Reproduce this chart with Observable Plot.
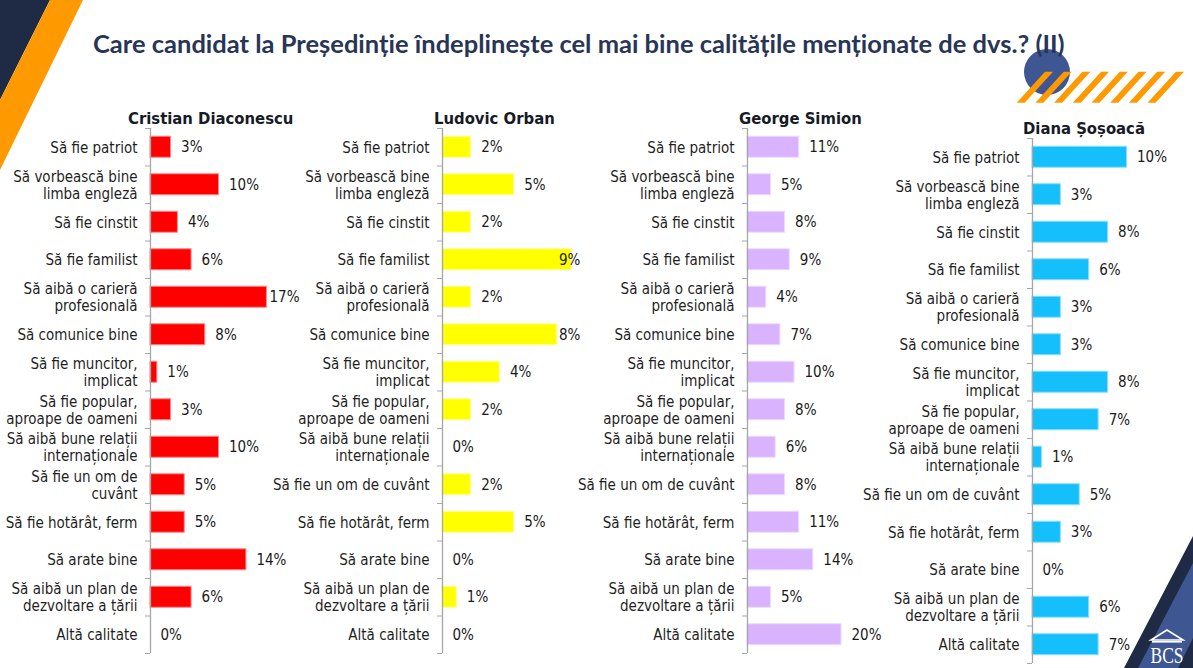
<!DOCTYPE html>
<html><head><meta charset="utf-8">
<script src="https://cdn.jsdelivr.net/npm/d3@7"></script>
<script src="https://cdn.jsdelivr.net/npm/@observablehq/plot@0.6"></script>
<style>
body{margin:0;background:#fff;}
#wrap{position:relative;width:1193px;height:668px;overflow:hidden;background:#fff;}
#decor{position:absolute;left:0;top:0;}
</style></head>
<body><div id="wrap"><svg id="decor" width="1193" height="668"></svg></div>
<script>
// ---- data ----
const chartTitle = "Care candidat la Președinție îndeplinește cel mai bine calitățile menționate de dvs.? (II)";
const categories = ["Să fie patriot", "Să vorbească bine\nlimba engleză", "Să fie cinstit", "Să fie familist",
  "Să aibă o carieră\nprofesională", "Să comunice bine", "Să fie muncitor,\nimplicat",
  "Să fie popular,\naproape de oameni", "Să aibă bune relații\ninternaționale", "Să fie un om de cuvânt",
  "Să fie hotărât, ferm", "Să arate bine", "Să aibă un plan de\ndezvoltare a țării", "Altă calitate"];
const categoriesNarrow = categories.map(c => c === "Să fie un om de cuvânt" ? "Să fie un om de\ncuvânt" : c);
const candidates = ["Cristian Diaconescu", "Ludovic Orban", "George Simion", "Diana Șoșoacă"];
const diaconescu = [3, 10, 4, 6, 17, 8, 1, 3, 10, 5, 5, 14, 6, 0];
const orban      = [2, 5, 2, 9, 2, 8, 4, 2, 0, 2, 5, 0, 1, 0];
const simion     = [11, 5, 8, 9, 4, 7, 10, 8, 6, 8, 11, 14, 5, 20];
const sosoaca    = [10, 3, 8, 6, 3, 3, 8, 7, 1, 5, 3, 0, 6, 7];

// ---- layout / style ----
const FONT = '"DejaVu Sans Condensed", "DejaVu Sans", sans-serif';
const layout = [
  {values: diaconescu, labels: categoriesNarrow, axis: 150, top: 100, px: 6.85, max: 20, cap: 119, fill: "#ff0000", stroke: "#ff8a8a", tx: 128, ty: 124},
  {values: orban, labels: categories, axis: 441.7, top: 100, px: 14.35, max: 10, cap: 116.5, fill: "#ffff00", stroke: "#ffffa0", tx: 434, ty: 124},
  {values: simion, labels: categories, axis: 746.7, top: 100, px: 4.7, max: 25, cap: Infinity, fill: "#d9b3fe", stroke: "#ecdcff", tx: 739, ty: 124},
  {values: sosoaca, labels: categories, axis: 1031.7, top: 110, px: 9.45, max: 12, cap: Infinity, fill: "#14bffb", stroke: "#8cdffd", tx: 1023, ty: 134}
];

const wrap = document.getElementById("wrap");
const decor = d3.select("#decor");

// decorations
decor.append("polygon").attr("points", "0,0 50,0 0,100").attr("fill", "#1f2a44");
decor.append("polygon").attr("points", "50,0 83,0 0,170 0,100").attr("fill", "#ff9900");
decor.append("circle").attr("cx", 1047).attr("cy", 72).attr("r", 23).attr("fill", "#3e5691");
for (let k = 0; k < 8; k++) {
  const o = k * 18.7;
  decor.append("polygon")
    .attr("points", `${1016.7 + o},102.7 ${1024.7 + o},102.7 ${1053 + o},71.7 ${1045 + o},71.7`)
    .attr("fill", "#ff9900");
}
decor.append("polygon").attr("points", "1124,668 1193,536 1193,668").attr("fill", "#1f2a44");
decor.append("polygon").attr("points", "1138,668 1193,563 1193,638 1178,668").attr("fill", "#3e5691");
// BCS logo
decor.append("polygon").attr("points", "1151,640 1167,630 1183,640").attr("fill", "none").attr("stroke", "#fff").attr("stroke-width", 1.6);
decor.append("rect").attr("x", 1152).attr("y", 641).attr("width", 30).attr("height", 1.6).attr("fill", "#fff");
decor.append("text").attr("x", 1167).attr("y", 663).attr("text-anchor", "middle")
  .attr("font-family", '"Liberation Serif", serif').attr("font-size", 23).attr("fill", "#fff")
  .attr("textLength", 33).attr("lengthAdjust", "spacingAndGlyphs").text("BCS");

// title
decor.append("text").attr("x", 93).attr("y", 53).attr("font-family", "Lato, sans-serif")
  .attr("font-weight", 700).attr("font-size", 25.5).attr("fill", "#283556").text(chartTitle);

// panel titles
layout.forEach((cfg, j) => {
  decor.append("text").attr("x", cfg.tx).attr("y", cfg.ty).attr("font-family", FONT)
    .attr("font-weight", 700).attr("font-size", 16.5).attr("fill", "#161b26").text(candidates[j]);
});

// panels
layout.forEach(cfg => {
  const data = cfg.values.map((v, i) => ({i, v, label: cfg.labels[i]}));
  const ML = 180, MR = 45, MT = 28, MB = 6;
  const W = ML + cfg.px * cfg.max + MR;
  const H = MT + 525 + MB;
  const chart = Plot.plot({
    width: W, height: H, marginLeft: ML, marginRight: MR, marginTop: MT, marginBottom: MB,
    x: {domain: [0, cfg.max], axis: null, clamp: false},
    y: {domain: [0, 14], reverse: true, axis: null},
    style: {fontFamily: FONT, fontSize: "15px", overflow: "visible", background: "transparent"},
    marks: [
      Plot.rect(data.filter(d => d.v > 0), {x1: () => 0, x2: "v", y1: d => d.i + 0.22, y2: d => d.i + 0.78,
        fill: cfg.fill, stroke: cfg.stroke, strokeWidth: 1}),
      Plot.ruleX([0], {stroke: "#a6a6a6", strokeWidth: 1.3}),
      Plot.axisY(d3.range(15), {anchor: "left", tickSize: 5, tickFormat: () => "", stroke: "#a6a6a6", label: null}),
      Plot.text(data, {x: () => 0, y: d => d.i + 0.5, text: "label", textAnchor: "end", dx: -13,
        fill: "#1f1f1f", lineHeight: 1.12}),
      // value labels sit just outside the bar end, pulled back inside when they would leave the chart area
      Plot.text(data, {x: d => Math.min(d.v + 10 / cfg.px, cfg.cap / cfg.px), y: d => d.i + 0.5,
        text: d => d.v + "%", textAnchor: "start", fill: "#1a1a1a", fontSize: 15})
    ]
  });
  chart.style.position = "absolute";
  chart.style.left = (cfg.axis - ML) + "px";
  chart.style.top = cfg.top + "px";
  wrap.appendChild(chart);
});
</script>
</body></html>
